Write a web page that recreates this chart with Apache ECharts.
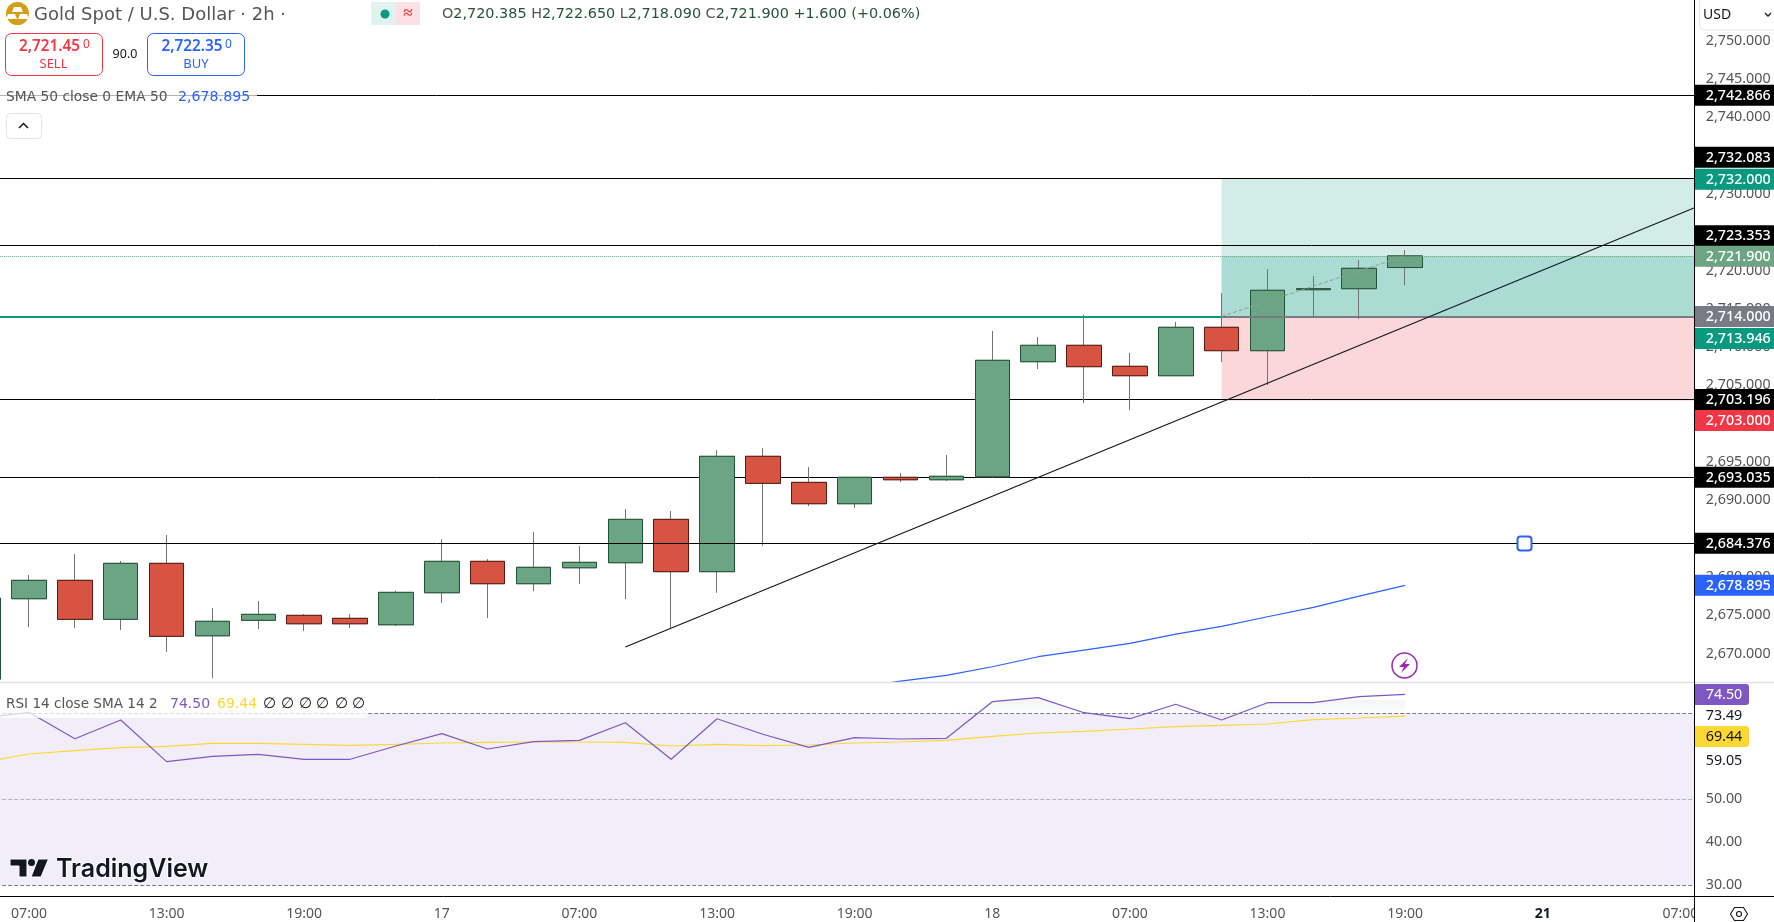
<!DOCTYPE html>
<html><head><meta charset="utf-8">
<style>html,body{margin:0;padding:0;background:#fff}#c{width:1774px;height:922px}</style>
<script src="https://cdn.jsdelivr.net/npm/echarts@6/dist/echarts.min.js"></script>
</head><body><div id="c"></div>
<script>
// ---------- data ----------
const categories = ['', '07:00','','','13:00','','','19:00','','','17','','','07:00','','','13:00','','','19:00','','','18','','','07:00','','','13:00','','','19:00','','','21','','','07:00',''];
const opens  = [2666.66,2677.15,2679.55,2674.46,2681.77,2672.31,2674.33,2674.98,2674.59,2673.75,2677.93,2682.03,2679.11,2681.19,2681.85,2687.51,2680.68,2695.74,2692.34,2689.55,2693.00,2692.68,2693.07,2708.09,2710.23,2707.49,2706.26,2712.58,2709.53,2717.49,2717.62,2720.385];
const closes = [2677.24,2679.55,2674.46,2681.77,2672.24,2674.20,2675.11,2673.88,2673.88,2677.98,2682.03,2679.11,2681.25,2681.90,2687.51,2680.68,2695.74,2692.21,2689.55,2693.00,2692.68,2693.13,2708.27,2710.23,2707.44,2706.26,2712.58,2709.53,2717.41,2717.62,2720.28,2721.90];
const lows   = [2666.50,2673.45,2673.32,2673.06,2670.19,2666.79,2673.19,2672.93,2673.32,2673.58,2676.59,2674.63,2678.15,2679.07,2677.11,2673.29,2677.93,2684.07,2689.25,2688.99,2692.38,2692.51,2692.94,2707.14,2702.70,2701.78,2706.26,2708.05,2705.05,2713.96,2713.67,2718.09];
const highs  = [2677.30,2680.24,2682.98,2682.07,2685.46,2675.93,2676.85,2675.15,2675.15,2678.19,2684.94,2682.33,2685.86,2684.03,2688.86,2688.60,2696.56,2696.82,2694.34,2693.00,2693.56,2695.91,2712.10,2711.31,2714.19,2709.22,2713.27,2717.06,2720.19,2719.28,2721.37,2722.65];
const ema50  = [null,null,null,null,null,null,null,null,null,null,null,null,null,null,null,null,null,null,null,2665.49,2666.40,2667.15,2668.27,2669.58,2670.45,2671.33,2672.54,2673.55,2674.80,2676.03,2677.50,2678.895];
const rsi    = [69.0,70.33,64.16,68.53,58.79,60.04,60.5,59.35,59.35,62.45,65.33,61.75,63.46,63.78,67.9,59.35,68.83,65.19,62.15,64.4,64.09,64.25,72.8,73.74,70.23,68.83,72.2,68.53,72.57,72.57,73.97,74.50];
const rsiSma = [58.7,60.58,61.36,62.06,62.38,63.08,63.08,62.85,62.62,62.85,63.15,63.32,63.39,63.39,63.32,62.45,62.85,62.52,62.69,63.15,63.39,63.78,64.72,65.49,65.89,66.42,66.96,67.29,67.59,68.6,69.0,69.44];
const levelsAbove = [2742.866,2732.083,2723.353,2684.376];
const levelsBelow = [2703.196,2693.035];
const lastPrice = 2721.900;
const entryPrice = 2714.000;
const targetPrice = 2732.000;
const stopPrice = 2703.000;
const trendStart = [14,2670.84];
const trendEnd = [38,2729.89];
const entryBar = 27, lastBar = 31, finalBar = 38;
const rsiLevels = [70,50,30];

const FONT = '"Noto Sans"';
const WIDE = '"DejaVu Sans"';
const UP='#6ba583',UPB='#225437',DN='#d75442',DNB='#5b1a13',WICK='#737375',TICK='#555555';
const fmtPrice = v => v.toLocaleString('en-US',{minimumFractionDigits:3,maximumFractionDigits:3});

const full = opens.map((o,i)=>[o,closes[i],lows[i],highs[i]]);
const bodies = opens.map((o,i)=>[o,closes[i],Math.min(o,closes[i]),Math.max(o,closes[i])]);
const rsiTop = rsi.map(v=>Math.max(v,70));

// ---------- panel dressing, not data ----------
const txt = (x,y,text,fill,size,extra={}) => ({type:'text',z:extra.z||13,x,y,silent:true,style:Object.assign({text,fill,font:`${extra.weight||'normal'} ${size}px ${extra.family||FONT}`,textAlign:extra.align||'left',textVerticalAlign:'middle'},extra.style||{})});
const rect = (x,y,w,h,fill,z,extra={}) => ({type:'rect',z,silent:true,shape:{x,y,width:w,height:h,r:extra.r||0},style:{fill,stroke:extra.stroke||null,lineWidth:extra.lw||0}});
const line = (x1,y1,x2,y2,stroke,z,lw=1) => ({type:'line',z,silent:true,shape:{x1,y1,x2,y2},style:{stroke,lineWidth:lw}});
const poly = (points,fill,z,extra={}) => ({type:'polygon',z,silent:true,shape:{points},style:{fill,stroke:extra.stroke||null,lineWidth:extra.lw||0}});
const tag = (yc,text,bg,fg='#fff') => [rect(1695,yc-10.5,79,21,bg,12),txt(1705.7,yc+0.5,text,fg,14.3,{weight:'500'})];

const g = [
 rect(1695,0,79,922,'#fff',10),
 rect(0,683,1695,17,'#fff',3),
 line(0,682.5,1774,682.5,'#e0e3eb',11,1.5),
 line(1694.5,0,1694.5,922,'#000',14,1),
 line(0,896.5,1774,896.5,'#000',14,1),
 // header
 {type:'circle',z:13,silent:true,shape:{cx:17.5,cy:13.5,r:11.5},style:{fill:'#d49f17'}},
 poly([[14,7],[21,7],[23,12],[12,12]],'#fff',14),
 poly([[8,14],[15,14],[17,19],[6,19]],'#fff',14),
 poly([[20,14],[27,14],[29,19],[18,19]],'#fff',14),
 txt(34,15,'Gold Spot / U.S. Dollar · 2h ·','#555',18,{family:WIDE}),
 rect(371,2,25,23,'#dff3ef',13), rect(396,2,24,23,'#fce0e4',13),
 {type:'circle',z:14,silent:true,shape:{cx:385,cy:14,r:4.5},style:{fill:'#089981'}},
 txt(408,13,'≈','#f23645',17,{align:'center',z:14,weight:'bold'}),
 {type:'text',z:13,silent:true,x:442,y:14.5,style:{text:'{g|O}{v|2,720.385} {g|H}{v|2,722.650} {g|L}{v|2,718.090} {g|C}{v|2,721.900} {v|+1.600 (+0.06%)}',font:`14.4px ${WIDE}`,textVerticalAlign:'middle',rich:{g:{fill:'#555',font:`14.4px ${WIDE}`},v:{fill:'#225437',font:`14.4px ${WIDE}`}}}},
 rect(5.5,33.5,97,42,'#fff',13,{r:6,stroke:'#f23645',lw:1}),
 txt(19,47,'2,721.45','#f23645',15.3,{weight:'600',z:14}),
 txt(83,45,'0','#f23645',12,{z:14}),
 txt(53.5,64,'SELL','#f23645',13,{align:'center',z:14}),
 txt(125,54,'90.0','#131722',12.5,{align:'center'}),
 rect(147.5,33.5,97,42,'#fff',13,{r:6,stroke:'#2962ff',lw:1}),
 txt(161.5,47,'2,722.35','#2962ff',15.3,{weight:'600',z:14}),
 txt(225,45,'0','#2962ff',12,{z:14}),
 txt(196,64,'BUY','#2962ff',13,{align:'center',z:14}),
 rect(0,85,257,22,'rgba(255,255,255,0.7)',6),
 txt(6,97,'SMA 50 close 0 EMA 50','#555',13.8,{z:7,family:WIDE}),
 txt(178,97,fmtPrice(ema50[31]),'#2962ff',14.2,{z:7,family:WIDE}),
 rect(6.5,113.5,35,25,'#fff',13,{r:4,stroke:'#e0e3eb',lw:1}),
 {type:'polyline',z:14,silent:true,shape:{points:[[19,128],[23.5,123.5],[28,128]]},style:{stroke:'#131722',lineWidth:1.5,fill:null}},
 // RSI legend
 rect(0,695,367,23,'rgba(255,255,255,0.75)',6),
 txt(6,704,'RSI 14 close SMA 14 2','#555',13.6,{z:7,family:WIDE}),
 txt(170,704,rsi[31].toFixed(2),'#7e57c2',14,{z:7,family:WIDE}),
 txt(217,704,rsiSma[31].toFixed(2),'#fdd835',14,{z:7,family:WIDE}),
 ...[269,287,305,322.5,341,358].map(x=>txt(x,704,'∅','#131722',15,{align:'center',z:7})),
 // logo
 poly([[10,859],[27,859],[27,877],[19,877],[19,866],[10,866]],'#131722',13,{stroke:'#fff',lw:1}),
 poly([[38,859],[48.5,859],[41,877],[31,877]],'#131722',13,{stroke:'#fff',lw:1}),
 {type:'circle',z:13,silent:true,shape:{cx:31.5,cy:862.5,r:3.5},style:{fill:'#131722'}},
 txt(56,869,'TradingView','#131722',25,{weight:'600',style:{stroke:'#fff',lineWidth:2,font:`600 25px "Inter"`}}),
 // icons
 {type:'circle',z:13,silent:true,shape:{cx:1404.5,cy:665.5,r:12.5},style:{fill:'#fff',stroke:'#9c27b0',lineWidth:1.5}},
 poly([[1408,658],[1399,667],[1404,667],[1401,673],[1410,664],[1405,664]],'#9c27b0',14),
 rect(1517.5,536.5,14,14,'#fff',13,{r:3,stroke:'#2962ff',lw:2}),
 // USD
 rect(1699.5,-5,80,35,'#fff',11.5,{r:5,stroke:'#e6e8ee',lw:1}),
 txt(1703,15,'USD','#131722',14),
 {type:'polyline',z:14,silent:true,shape:{points:[[1765,13],[1768,16],[1771,13]]},style:{stroke:'#131722',lineWidth:1.3,fill:null}},
 // gear
 poly([[1730.5,914],[1734.5,907.5],[1743.5,907.5],[1747.5,914],[1743.5,920.5],[1734.5,920.5]],null,14,{stroke:'#131722',lw:1.1}),
 {type:'circle',z:14,silent:true,shape:{cx:1739,cy:914,r:2.5},style:{fill:null,stroke:'#131722',lineWidth:1.1}},
 // price tags
 ...tag(95.3,fmtPrice(2742.866),'#000'),
 ...tag(157.3,fmtPrice(2732.083),'#000'),
 ...tag(179.3,fmtPrice(targetPrice),'#089981'),
 ...tag(235.7,fmtPrice(2723.353),'#000'),
 ...tag(256.3,fmtPrice(lastPrice),UP),
 ...tag(316.5,fmtPrice(entryPrice),'#787b86'),
 ...tag(338.5,fmtPrice(2713.946),'#089981'),
 ...tag(399.5,fmtPrice(2703.196),'#000'),
 ...tag(420.5,fmtPrice(stopPrice),'#f23645'),
 ...tag(477.3,fmtPrice(2693.035),'#000'),
 ...tag(543.3,fmtPrice(2684.376),'#000'),
 ...tag(585.3,fmtPrice(ema50[31]),'#2962ff'),
 rect(1695,684,54,21,'#7e57c2',12,{r:[0,3,3,0]}),
 txt(1705.7,694.5,rsi[31].toFixed(2),'#fff',14.3),
 txt(1705.7,716,'73.49','#131722',14.3),
 rect(1695,726,54,21,'#fdd835',12,{r:[0,3,3,0]}),
 txt(1705.7,736.5,rsiSma[31].toFixed(2),'#131722',14.3),
 txt(1705.7,761,'59.05','#131722',14.3),
];

const plainLine = (y,color,width=1,type='solid') => ({yAxis:y,lineStyle:{color,width,type}});
const seg = (a,b,color,width,type='solid') => [{coord:a,lineStyle:{color,width,type}},{coord:b}];

const option = {
 animation:false,
 backgroundColor:'#fff',
 textStyle:{fontFamily:FONT},
 graphic:{elements:g},
 grid:[
  {left:-39.8,width:1788.93,top:2.35,height:689.45,outerBoundsMode:'none'},
  {left:-39.8,width:1788.93,top:670.9,height:214,outerBoundsMode:'none'}
 ],
 xAxis:[
  {type:'category',gridIndex:0,data:categories,show:false},
  {type:'category',gridIndex:1,data:categories,axisLine:{show:false},axisTick:{show:false},splitLine:{show:false},
   axisLabel:{interval:0,margin:22,color:TICK,fontSize:14,fontFamily:FONT,hideOverlap:false,
    formatter:v=>v==='21'?'{b|21}':v,rich:{b:{fontWeight:'bold',color:'#131722',fontSize:14,fontFamily:FONT}}}}
 ],
 yAxis:[
  {type:'value',gridIndex:0,position:'right',offset:-45.4,min:2665,max:2755,interval:5,z:11,axisLine:{show:false},axisTick:{show:false},splitLine:{show:false},
   axisLabel:{margin:2,color:TICK,fontSize:14.3,fontFamily:FONT,formatter:v=>(v<=2665||v>=2755)?'':fmtPrice(v)}},
  {type:'value',gridIndex:1,position:'right',offset:-45.4,min:30,max:80,interval:10,z:11,axisLine:{show:false},axisTick:{show:false},splitLine:{show:false},
   axisLabel:{margin:2,color:TICK,fontSize:14.3,fontFamily:FONT,formatter:v=>v>50?'':v.toFixed(2)}}
 ],
 series:[
  {name:'Position and lower levels',type:'line',xAxisIndex:0,yAxisIndex:0,data:[],z:1,symbol:'none',
   markArea:{silent:true,z:1,data:[
     [{coord:[entryBar,targetPrice],itemStyle:{color:'rgba(8,153,129,0.18)'}},{coord:[finalBar,entryPrice]}],
     [{coord:[entryBar,lastPrice],itemStyle:{color:'rgba(8,153,129,0.2)'}},{coord:[finalBar,entryPrice]}],
     [{coord:[entryBar,entryPrice],itemStyle:{color:'rgba(242,54,69,0.2)'}},{coord:[finalBar,stopPrice]}]
   ]},
   markLine:{silent:true,z:1,symbol:'none',label:{show:false},data:levelsBelow.map(v=>plainLine(v,'#000',1))}},
  {name:'Gold wicks',type:'candlestick',xAxisIndex:0,yAxisIndex:0,data:full,barWidth:35,z:2,
   itemStyle:{color:UP,color0:DN,borderColor:WICK,borderColor0:WICK,borderWidth:1}},
  {name:'Gold Spot / U.S. Dollar',type:'candlestick',xAxisIndex:0,yAxisIndex:0,data:bodies,barWidth:35,z:3,
   itemStyle:{color:UP,color0:DN,borderColor:UPB,borderColor0:DNB,borderWidth:1}},
  {name:'EMA 50',type:'line',xAxisIndex:0,yAxisIndex:0,data:ema50,z:2,symbol:'none',lineStyle:{color:'#2962ff',width:1.2}},
  {name:'Drawings',type:'line',xAxisIndex:0,yAxisIndex:0,data:[],z:4,symbol:'none',
   markLine:{silent:true,z:4,symbol:'none',label:{show:false},data:[
     ...levelsAbove.map(v=>plainLine(v,'#000',1)),
     plainLine(targetPrice,'#000',1),
     plainLine(lastPrice,UP,1,'dotted'),
     seg([0,entryPrice],[entryBar,entryPrice],'#089981',2),
     seg([entryBar,entryPrice],[finalBar,entryPrice],'#787b86',2),
     seg([entryBar,entryPrice],[lastBar,lastPrice],'#9a9a9a',1,'dashed'),
     seg(trendStart,trendEnd,'#131722',1.2)
   ]}},
  {name:'RSI band',type:'line',xAxisIndex:1,yAxisIndex:1,data:[],z:1,symbol:'none',
   markArea:{silent:true,z:1,itemStyle:{color:'rgba(126,87,194,0.1)'},data:[[{coord:[0,rsiLevels[0]]},{coord:[finalBar,rsiLevels[2]]}]]},
   markLine:{silent:true,z:2,symbol:'none',label:{show:false},data:[
     plainLine(rsiLevels[0],'#787b86',1,'dashed'),
     plainLine(rsiLevels[1],'rgba(120,123,134,0.5)',1,'dashed'),
     plainLine(rsiLevels[2],'#787b86',1,'dashed')
   ]}},
  {name:'RSI overbought fill',type:'line',xAxisIndex:1,yAxisIndex:1,data:rsiTop,z:2,symbol:'none',lineStyle:{opacity:0},
   areaStyle:{origin:70,color:{type:'linear',x:0,y:0,x2:0,y2:1,colorStops:[{offset:0,color:'rgba(76,130,100,0.14)'},{offset:1,color:'rgba(76,130,100,0.02)'}]}}},
  {name:'RSI SMA',type:'line',xAxisIndex:1,yAxisIndex:1,data:rsiSma,z:3,symbol:'none',lineStyle:{color:'#fdd835',width:1.2}},
  {name:'RSI',type:'line',xAxisIndex:1,yAxisIndex:1,data:rsi,z:4,symbol:'none',lineStyle:{color:'#7e57c2',width:1.2}}
 ]
};
const chart = echarts.init(document.getElementById('c'),null,{renderer:'canvas'});
chart.setOption(option);
</script></body></html>
